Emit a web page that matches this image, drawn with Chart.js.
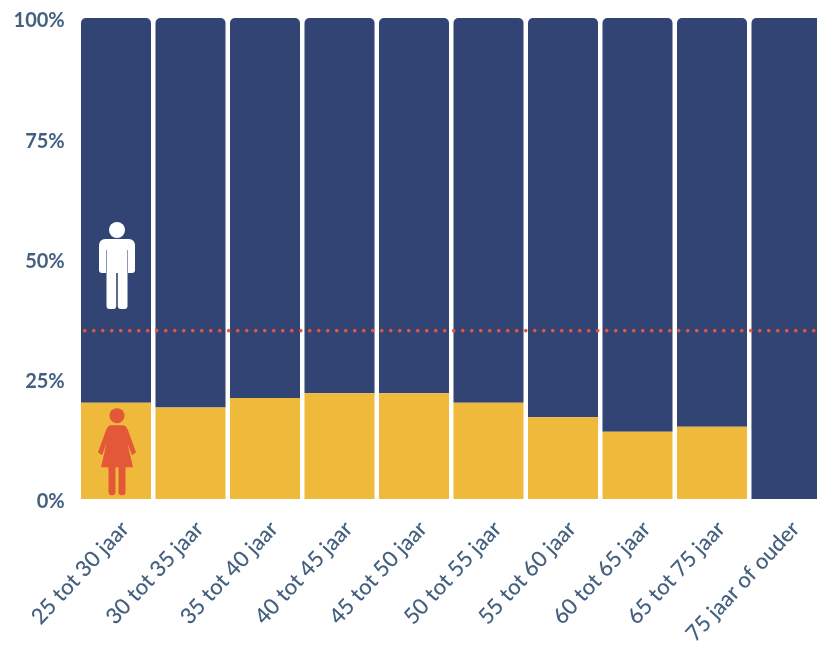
<!DOCTYPE html>
<html lang="nl">
<head>
<meta charset="utf-8">
<title>Aandeel vrouwen en mannen per leeftijdsgroep</title>
<script src="https://cdn.jsdelivr.net/npm/chart.js@4"></script>
<style>
  html, body { margin: 0; padding: 0; background: #fff; overflow: hidden; }
  canvas { display: block; }
</style>
</head>
<body>
<canvas id="myChart" width="830" height="647"></canvas>
<script>
const categories = ['25 tot 30 jaar', '30 tot 35 jaar', '35 tot 40 jaar', '40 tot 45 jaar', '45 tot 50 jaar',
  '50 tot 55 jaar', '55 tot 60 jaar', '60 tot 65 jaar', '65 tot 75 jaar', '75 jaar of ouder'];
const women = [20, 19, 21, 22, 22, 20, 17, 14, 15, 0];
const men = [80, 81, 79, 78, 78, 80, 83, 86, 85, 100];
const referenceLine = 35;
const axisTicks = [0, 25, 50, 75, 100];

const NAVY = '#324474';
const YELLOW = '#efba3c';
const RED = '#e4583a';
const LABEL = '#44607f';

// Dotted line across the whole plot
const dottedLine = {
  id: 'dottedLine',
  afterDatasetsDraw(chart) {
    const { ctx, chartArea, scales } = chart;
    const y = scales.y.getPixelForValue(referenceLine);
    ctx.save();
    ctx.strokeStyle = RED;
    ctx.lineWidth = 3.6;
    ctx.lineCap = 'round';
    ctx.setLineDash([0, 9]);
    ctx.beginPath();
    ctx.moveTo(chartArea.left + 6, y);
    ctx.lineTo(chartArea.right, y);
    ctx.stroke();
    ctx.restore();
  }
};

function drawMan(ctx, cx, feet) {
  const top = feet - 70;
  ctx.fillStyle = '#fff';
  ctx.beginPath();
  ctx.arc(cx, feet - 79, 8, 0, Math.PI * 2);
  ctx.fill();
  // arms + torso
  ctx.beginPath();
  ctx.roundRect(cx - 18, top, 36, 34, [6, 6, 3, 3]);
  ctx.fill();
  // legs
  ctx.beginPath();
  ctx.roundRect(cx - 10.5, top + 20, 9.7, 50, [0, 0, 3, 3]);
  ctx.roundRect(cx + 0.8, top + 20, 9.7, 50, [0, 0, 3, 3]);
  ctx.fill();
  // gaps between arms and torso
  ctx.fillStyle = '#8e9ab8';
  ctx.fillRect(cx - 11, top + 11, 1, 23);
  ctx.fillRect(cx + 10, top + 11, 1, 23);
  ctx.fillStyle = NAVY;
  ctx.fillRect(cx - 18, top + 34, 7, 3);
  ctx.fillRect(cx + 11, top + 34, 7, 3);
}

function drawWoman(ctx, cx, feet) {
  ctx.fillStyle = RED;
  ctx.beginPath();
  ctx.arc(cx, feet - 79.5, 7.5, 0, Math.PI * 2);
  ctx.fill();
  // dress
  ctx.beginPath();
  ctx.moveTo(cx - 6, feet - 70);
  ctx.lineTo(cx + 6, feet - 70);
  ctx.quadraticCurveTo(cx + 9, feet - 70, cx + 11, feet - 65);
  ctx.lineTo(cx + 19, feet - 43);
  ctx.lineTo(cx + 15, feet - 40);
  ctx.lineTo(cx + 10.5, feet - 52);
  ctx.lineTo(cx + 16, feet - 28);
  ctx.lineTo(cx - 16, feet - 28);
  ctx.lineTo(cx - 10.5, feet - 52);
  ctx.lineTo(cx - 15, feet - 40);
  ctx.lineTo(cx - 19, feet - 43);
  ctx.lineTo(cx - 11, feet - 65);
  ctx.quadraticCurveTo(cx - 9, feet - 70, cx - 6, feet - 70);
  ctx.closePath();
  ctx.fill();
  // legs
  ctx.beginPath();
  ctx.roundRect(cx - 8.5, feet - 29, 7, 29, [0, 0, 3, 3]);
  ctx.roundRect(cx + 1.5, feet - 29, 7, 29, [0, 0, 3, 3]);
  ctx.fill();
}

// Pictograms in the first bar
const icons = {
  id: 'icons',
  afterDatasetsDraw(chart) {
    const { ctx, scales } = chart;
    const cx = scales.x.getPixelForValue(0) + 1;
    ctx.save();
    drawMan(ctx, cx, scales.y.getPixelForValue(39.5));
    drawWoman(ctx, cx, scales.y.getPixelForValue(0.8));
    ctx.restore();
  }
};

// Fixed plot area, the labels may hang over its edges
function clearPadding(scale) {
  scale.paddingTop = 0;
  scale.paddingBottom = 0;
  scale.paddingLeft = 0;
  scale.paddingRight = 0;
}

const ctx = document.getElementById('myChart').getContext('2d');
new Chart(ctx, {
  type: 'bar',
  data: {
    labels: categories,
    datasets: [
      { label: 'Vrouwen', data: women, backgroundColor: YELLOW, borderWidth: 0 },
      {
        label: 'Mannen', data: men, backgroundColor: NAVY, borderWidth: 0,
        borderRadius: { topLeft: 5, topRight: 5, bottomLeft: 0, bottomRight: 0 },
        borderSkipped: false
      }
    ]
  },
  options: {
    responsive: false,
    animation: false,
    layout: { padding: { top: 18, right: 6.25, left: 0, bottom: 0 } },
    plugins: { legend: { display: false }, tooltip: { enabled: false } },
    datasets: { bar: { barPercentage: 0.94, categoryPercentage: 1 } },
    scales: {
      x: {
        stacked: true,
        grid: { display: false, drawTicks: false },
        border: { display: false },
        afterFit(scale) { scale.height = 148; clearPadding(scale); },
        ticks: {
          autoSkip: false, minRotation: 47, maxRotation: 47, padding: 17, labelOffset: 9,
          color: LABEL, font: { family: 'Lato', size: 22, weight: '500' }
        }
      },
      y: {
        stacked: true,
        min: 0,
        max: 100,
        grid: { display: false, drawTicks: false },
        border: { display: false },
        afterFit(scale) { scale.width = 78.75; clearPadding(scale); },
        afterBuildTicks(scale) { scale.ticks = axisTicks.map(value => ({ value })); },
        ticks: {
          padding: 14, labelOffset: 3, color: LABEL,
          font: { family: 'Lato', size: 20, weight: '700' },
          callback: value => value + '%'
        }
      }
    }
  },
  plugins: [icons, dottedLine]
});
</script>
</body>
</html>
